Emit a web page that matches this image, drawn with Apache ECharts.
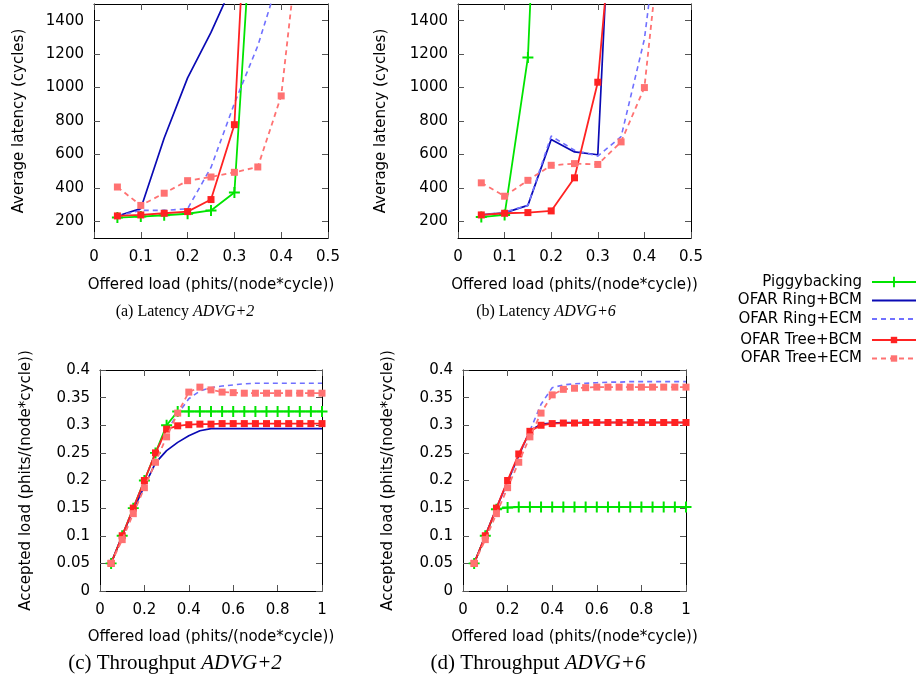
<!DOCTYPE html>
<html>
<head>
<meta charset="utf-8">
<script src="https://cdn.jsdelivr.net/npm/echarts@6/dist/echarts.min.js"></script>
<style>
  html, body { margin: 0; padding: 0; background: #fff; }
  #chart { width: 917px; height: 681px; }
</style>
</head>
<body>
<div id="chart"></div>
<script>
// offered load (x) for latency and throughput plots
const loadLat = [0.05, 0.1, 0.15, 0.2, 0.25, 0.3, 0.35, 0.4, 0.45, 0.5]
const loadThr = [0.05, 0.1, 0.15, 0.2, 0.25, 0.3, 0.35, 0.4, 0.45, 0.5,
  0.55, 0.6, 0.65, 0.7, 0.75, 0.8, 0.85, 0.9, 0.95, 1.0]

// tick labels
const latXTicks = [0, 0.1, 0.2, 0.3, 0.4, 0.5]
const latYTicks = [200, 400, 600, 800, 1000, 1200, 1400]
const thrXTicks = [0, 0.2, 0.4, 0.6, 0.8, 1]
const thrYTicks = [0, 0.05, 0.1, 0.15, 0.2, 0.25, 0.3, 0.35, 0.4]

const names = ['Piggybacking', 'OFAR Ring+BCM', 'OFAR Ring+ECM', 'OFAR Tree+BCM', 'OFAR Tree+ECM']

// (a) latency ADVG+2
const pigA = [222, 228, 236, 245, 265, 372, 2600]
const ringBcmA = [232, 276, 698, 1058, 1330, 1640]
const ringEcmA = [232, 265, 265, 275, 522, 905, 1250, 1700]
const treeBcmA = [232, 238, 248, 258, 330, 778, 3500]
const treeEcmA = [405, 295, 368, 443, 465, 493, 525, 950, 2200]

// (b) latency ADVG+6
const pigB = [225, 238, 1180, 4400]
const ringBcmB = [238, 250, 295, 690, 615, 598, 3500]
const ringEcmB = [238, 255, 295, 710, 625, 590, 706, 1290, 2400]
const treeBcmB = [238, 248, 252, 262, 460, 1032, 2600]
const treeEcmB = [430, 350, 445, 535, 545, 540, 675, 1000, 2300]

// (c) throughput ADVG+2
const pigC = [0.05, 0.1, 0.15, 0.2, 0.25, 0.3, 0.325, 0.325, 0.325, 0.325,
  0.325, 0.325, 0.325, 0.325, 0.325, 0.325, 0.325, 0.325, 0.325, 0.325]
const ringBcmC = [0.05, 0.1, 0.147, 0.19, 0.232, 0.254, 0.269, 0.281, 0.29, 0.294,
  0.294, 0.294, 0.294, 0.294, 0.294, 0.294, 0.294, 0.294, 0.294, 0.294]
const ringEcmC = [0.05, 0.1, 0.15, 0.2, 0.25, 0.29, 0.32, 0.348, 0.362, 0.368,
  0.371, 0.373, 0.375, 0.376, 0.376, 0.376, 0.376, 0.376, 0.376, 0.376]
const treeBcmC = [0.05, 0.1, 0.15, 0.2, 0.25, 0.293, 0.299, 0.301, 0.302, 0.302,
  0.303, 0.303, 0.303, 0.303, 0.303, 0.303, 0.303, 0.303, 0.303, 0.303]
const treeEcmC = [0.05, 0.093, 0.14, 0.187, 0.233, 0.279, 0.322, 0.36, 0.369, 0.364,
  0.36, 0.359, 0.358, 0.358, 0.358, 0.358, 0.358, 0.358, 0.358, 0.358]

// (d) throughput ADVG+6
const pigD = [0.05, 0.1, 0.148, 0.151, 0.152, 0.152, 0.152, 0.152, 0.152, 0.152,
  0.152, 0.152, 0.152, 0.152, 0.152, 0.152, 0.152, 0.152, 0.152, 0.152]
const ringBcmD = [0.05, 0.1, 0.15, 0.198, 0.245, 0.29, 0.302, 0.304, 0.305, 0.305,
  0.305, 0.305, 0.305, 0.305, 0.305, 0.305, 0.305, 0.305, 0.305, 0.305]
const ringEcmD = [0.05, 0.1, 0.15, 0.198, 0.245, 0.29, 0.338, 0.368, 0.373, 0.375,
  0.376, 0.377, 0.378, 0.378, 0.379, 0.379, 0.379, 0.379, 0.379, 0.379]
const treeBcmD = [0.05, 0.1, 0.15, 0.2, 0.248, 0.289, 0.3, 0.303, 0.304, 0.304,
  0.305, 0.305, 0.305, 0.305, 0.305, 0.305, 0.305, 0.305, 0.305, 0.305]
const treeEcmD = [0.05, 0.093, 0.14, 0.187, 0.233, 0.279, 0.322, 0.355, 0.365, 0.367,
  0.368, 0.369, 0.369, 0.369, 0.369, 0.369, 0.369, 0.369, 0.369, 0.369]

const plus = 'path://M4.1,0H5.9V4.1H10V5.9H5.9V10H4.1V5.9H0V4.1H4.1Z'
const looks = [
  { color: '#00e400', symbol: plus, symbolSize: 11, lineStyle: { width: 1.8 }, keyH: 13 },
  { color: '#0a0ab4', symbol: 'none', lineStyle: { width: 1.7 }, keyH: 13, noMark: true },
  { color: '#7070ff', symbol: 'none', lineStyle: { width: 1.6, type: [5, 4] }, keyH: 13, noMark: true },
  { color: '#ff2222', symbol: 'rect', symbolSize: 7, lineStyle: { width: 1.8 }, keyH: 8 },
  { color: '#ff7272', symbol: 'rect', symbolSize: 7, lineStyle: { width: 1.8, type: [5, 4] }, keyH: 8 },
]

const font = 'DejaVu Sans'
const grids = [
  { left: 94, top: 4, width: 234, height: 234 },
  { left: 458, top: 4, width: 233, height: 234 },
  { left: 100, top: 370, width: 222, height: 221 },
  { left: 463, top: 370, width: 223, height: 221 },
]
const xDefs = [
  { min: 0, max: 0.5, ticks: latXTicks, gap: 40 },
  { min: 0, max: 0.5, ticks: latXTicks, gap: 40 },
  { min: 0, max: 1, ticks: thrXTicks, gap: 39 },
  { min: 0, max: 1, ticks: thrXTicks, gap: 39 },
]
const yDefs = [
  { min: 100, max: 1500, ticks: latYTicks, name: 'Average latency (cycles)', gap: 67 },
  { min: 100, max: 1500, ticks: latYTicks, name: 'Average latency (cycles)', gap: 69 },
  { min: 0, max: 0.4, ticks: thrYTicks, name: 'Accepted load (phits/(node*cycle))', gap: 66 },
  { min: 0, max: 0.4, ticks: thrYTicks, name: 'Accepted load (phits/(node*cycle))', gap: 67 },
]

function axis(g, def, pos, main, margin) {
  return {
    type: 'value',
    gridIndex: g,
    position: pos,
    min: def.min,
    max: def.max,
    axisLine: { show: true, onZero: false, lineStyle: { color: '#000', width: 1 } },
    axisTick: { show: true, inside: true, length: 6, customValues: def.ticks, lineStyle: { color: '#555' } },
    axisLabel: {
      show: main,
      customValues: def.ticks,
      formatter: v => String(v),
      color: '#000',
      fontSize: 15,
      fontFamily: font,
      margin: margin,
    },
    splitLine: { show: false },
  }
}

const xAxis = []
const yAxis = []
for (let g = 0; g < 4; g++) {
  xAxis.push(Object.assign(axis(g, xDefs[g], 'bottom', true, 12), {
    name: 'Offered load (phits/(node*cycle))',
    nameLocation: 'middle',
    nameGap: xDefs[g].gap,
    nameTextStyle: { color: '#000', fontSize: 15, fontFamily: font },
  }))
  yAxis.push(Object.assign(axis(g, yDefs[g], 'left', true, 10), {
    name: yDefs[g].name,
    nameLocation: 'middle',
    nameGap: yDefs[g].gap,
    nameTextStyle: { color: '#000', fontSize: 15, fontFamily: font },
  }))
}
for (let g = 0; g < 4; g++) {
  xAxis.push(axis(g, xDefs[g], 'top', false, 10))
  yAxis.push(axis(g, yDefs[g], 'right', false, 10))
}

const panels = [
  { xs: loadLat, sets: [pigA, ringBcmA, ringEcmA, treeBcmA, treeEcmA] },
  { xs: loadLat, sets: [pigB, ringBcmB, ringEcmB, treeBcmB, treeEcmB] },
  { xs: loadThr, sets: [pigC, ringBcmC, ringEcmC, treeBcmC, treeEcmC] },
  { xs: loadThr, sets: [pigD, ringBcmD, ringEcmD, treeBcmD, treeEcmD] },
]

const series = []
panels.forEach((p, g) => {
  p.sets.forEach((vals, k) => {
    const lk = looks[k]
    series.push({
      name: names[k],
      type: 'line',
      xAxisIndex: g,
      yAxisIndex: g,
      data: vals.map((v, i) => [p.xs[i], v]),
      symbol: lk.symbol,
      symbolSize: lk.symbolSize || 6,
      showAllSymbol: true,
      clip: true,
      itemStyle: { color: lk.color },
      lineStyle: Object.assign({ color: lk.color }, lk.lineStyle),
      emphasis: { disabled: true },
      z: 2 + k,
    })
  })
})

// one legend per entry so the icons line up on the right like gnuplot's key
const keyCenters = [281, 299.5, 318, 336.5, 355]
const legend = names.map((n, k) => ({
  data: [n],
  right: 0,
  top: keyCenters[k] - looks[k].keyH / 2,
  padding: 0,
  align: 'right',
  itemWidth: 44,
  itemHeight: looks[k].keyH,
  itemStyle: looks[k].noMark ? { opacity: 0 } : {},
  textStyle: { color: '#000', fontSize: 15, fontFamily: font, padding: [0, 5, 0, 0] },
  selectedMode: false,
}))

const captions = [
  { x: 185, y: 312, a: '(a) Latency ', b: 'ADVG+2', size: 16 },
  { x: 546, y: 312, a: '(b) Latency ', b: 'ADVG+6', size: 16 },
  { x: 175, y: 663, a: '(c) Throughput ', b: 'ADVG+2', size: 21 },
  { x: 538, y: 663, a: '(d) Throughput ', b: 'ADVG+6', size: 21 },
]
const graphic = captions.map(c => ({
  type: 'text',
  x: c.x,
  y: c.y,
  style: {
    text: '{n|' + c.a + '}{i|' + c.b + '}',
    align: 'center',
    verticalAlign: 'middle',
    rich: {
      n: { fontFamily: 'Liberation Serif', fontSize: c.size, fill: '#000' },
      i: { fontFamily: 'Liberation Serif', fontSize: c.size, fontStyle: 'italic', fill: '#000' },
    },
  },
}))

const chart = echarts.init(document.getElementById('chart'))
chart.setOption({
  animation: false,
  backgroundColor: '#fff',
  grid: grids.map(g => Object.assign({ outerBoundsMode: 'none', containLabel: false }, g)),
  xAxis,
  yAxis,
  legend,
  series,
  graphic,
})
</script>
</body>
</html>
